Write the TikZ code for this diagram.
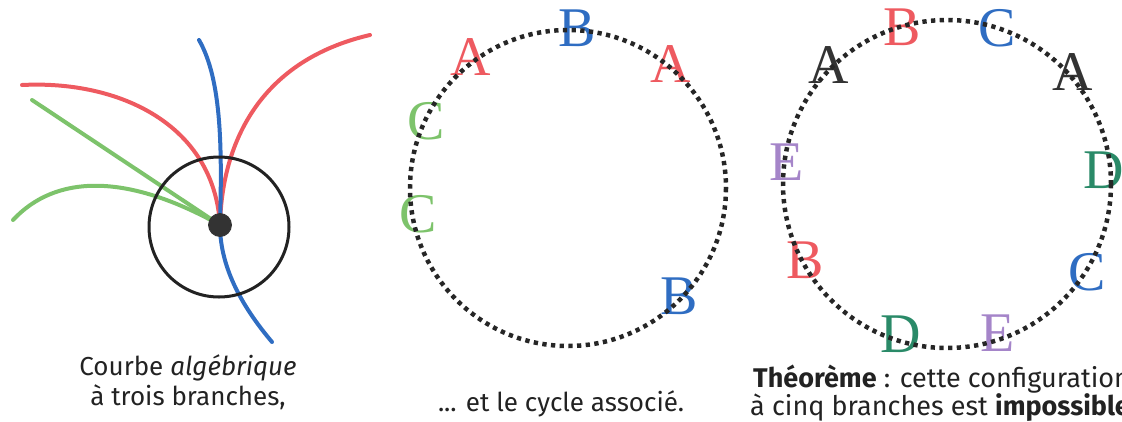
\documentclass[tikz,border=0pt]{standalone}
\usepackage{fontspec}
\newfontfamily\capfont{Fira Sans}
\newfontfamily\letfont{Liberation Serif}
\definecolor{cred}{HTML}{EE5A60}
\definecolor{cblue}{HTML}{2F6DC2}
\definecolor{cgreen}{HTML}{7DC36B}
\definecolor{cdgreen}{HTML}{2A8A68}
\definecolor{cpurple}{HTML}{A585C9}
\definecolor{cdark}{HTML}{333333}
\definecolor{ctext}{HTML}{222222}
\tikzset{
  branch/.style={line width=4pt, line cap=round},
  ring/.style={draw=ctext, line width=3pt},
  cycle/.style={draw=black!85, line width=4.5pt, dash pattern=on 4.3pt off 4.4pt},
  letter/.style={inner sep=0pt, font=\letfont\fontsize{56}{56}\selectfont},
  caption/.style={font=\capfont\fontsize{26}{30}\selectfont, text=ctext, inner sep=0pt},
  bigcaption/.style={caption, font=\capfont\fontsize{27}{30}\selectfont},
}
\begin{document}
\begin{tikzpicture}[x=1pt, y=-1pt]
\useasboundingbox (0,0) rectangle (1122,421);
% ---- left figure ----
\coordinate (p) at (220,225);
\draw[branch, cgreen] (32,100) -- (p);
\draw[branch, cgreen] (13,220) .. controls (55,175) and (125,172) .. (p);
\draw[branch, cred] (22,85) .. controls (120,80) and (214,125) .. (p);
\draw[branch, cred] (370,35) .. controls (262,60) and (222,140) .. (p);
\draw[branch, cblue] (199,40) .. controls (222,80) and (222,150) .. (p) .. controls (220,270) and (245,310) .. (272,342);
\node[ring, circle, minimum size=140pt, inner sep=0pt] (disk) at (219,227) {};
\node[circle, fill=cdark, draw=black!80, line width=0.8pt, minimum size=23pt, inner sep=0pt] (sing) at (p) {};
\node[caption, anchor=base] (cap1a) at (188,375) {Courbe \textit{algébrique}};
\node[caption, anchor=base] (cap1b) at (188,405) {à trois branches,};
% ---- middle figure ----
\node[letter, text=cred] (mA1) at (471,57) {A};
\node[letter, text=cblue] (mB1) at (577,28) {B};
\node[letter, text=cred] (mA2) at (671,64) {A};
\node[letter, text=cgreen] (mC1) at (426,121) {C};
\node[letter, text=cgreen] (mC2) at (418,214) {C};
\node[letter, text=cblue] (mB2) at (679,296) {B};
\draw[cycle] (568,188) circle[radius=158];
\node[caption, anchor=base] (cap2) at (561,411) {... et le cycle associé.};
% ---- right figure ----
\node[letter, text=cdark] (rA1) at (829,65) {A};
\node[letter, text=cred] (rB1) at (902,27) {B};
\node[letter, text=cblue] (rC1) at (997,28) {C};
\node[letter, text=cdark] (rA2) at (1073,72) {A};
\node[letter, text=cdgreen] (rD1) at (1104,170) {D};
\node[letter, text=cpurple] (rE1) at (787,162) {E};
\node[letter, text=cred] (rB2) at (805,260) {B};
\node[letter, text=cblue] (rC2) at (1087,272) {C};
\node[letter, text=cdgreen] (rD2) at (901,334) {D};
\node[letter, text=cpurple] (rE2) at (998,333) {E};
\draw[cycle] (947,184) circle[radius=164];
\node[bigcaption, anchor=base west] (cap3a) at (753,387) {\textbf{Théorème} : cette configuration};
\node[bigcaption, anchor=base west] (cap3b) at (750,415) {à cinq branches est \textbf{impossible}};
\end{tikzpicture}
\end{document}
